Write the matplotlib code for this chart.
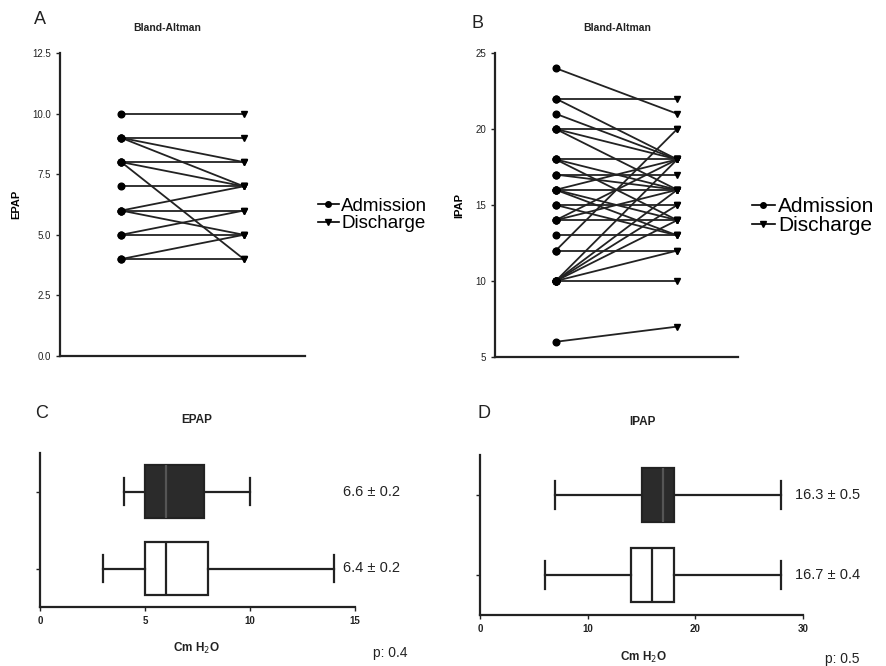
import matplotlib
matplotlib.use("Agg")
import matplotlib.pyplot as plt

plt.rcParams["font.family"] = ["Liberation Sans", "DejaVu Sans"]

# paired values (admission, discharge)
epap_adm = [10, 9, 9, 9, 8, 8, 8, 7, 6, 6, 6, 5, 5, 4, 4]
epap_dis = [10, 9, 8, 7, 8, 7, 4, 7, 7, 6, 5, 5, 6, 4, 5]

ipap_adm = [24, 22, 22, 21, 20, 20, 20, 18, 18, 18, 17, 17, 16, 16, 16, 16,
            15, 15, 14, 14, 14, 13, 12, 12, 10, 10, 10, 10, 10, 10, 6]
ipap_dis = [21, 22, 18, 18, 20, 18, 16, 18, 16, 14, 17, 16, 16, 14, 13, 18,
            15, 13, 14, 16, 18, 13, 12, 20, 10, 12, 14, 15, 16, 18, 7]

epap_ticks = [0.0, 2.5, 5.0, 7.5, 10.0, 12.5]
ipap_ticks = [5, 10, 15, 20, 25]

# box stats: whislo, q1, med, q3, whishi
epap_box_adm = [4, 5, 6, 7.8, 10]
epap_box_dis = [3, 5, 6, 8, 14]
ipap_box_adm = [7, 15, 17, 18, 28]
ipap_box_dis = [6, 14, 16, 18, 28]
epap_labels = ["6.6 ± 0.2", "6.4 ± 0.2"]
ipap_labels = ["16.3 ± 0.5", "16.7 ± 0.4"]

INK = "#222222"

fig = plt.figure(figsize=(8.86, 6.66), dpi=100)


def style_axes(ax):
    for s in ["top", "right"]:
        ax.spines[s].set_visible(False)
    for s in ["left", "bottom"]:
        ax.spines[s].set_linewidth(1.6)
        ax.spines[s].set_color(INK)
    ax.tick_params(direction="out", length=3, width=1, colors=INK, labelsize=7)


def paired_panel(rect, adm, dis, ticks, fmt, ylabel, legend_xy, legend_fs):
    ax = fig.add_axes(rect)
    style_axes(ax)
    for a, d in zip(adm, dis):
        ax.plot([0, 1], [a, d], color=INK, lw=1.3, zorder=2)
    ax.plot([0] * len(adm), adm, "o", color="black", ms=4.8, zorder=3)
    ax.plot([1] * len(dis), dis, "v", color="black", ms=4.8, zorder=3)
    ax.set_xlim(-0.5, 1.5)
    ax.set_ylim(ticks[0], ticks[-1])
    ax.set_yticks(ticks)
    ax.set_yticklabels([fmt.format(t) for t in ticks])
    ax.set_xticks([])
    ax.set_ylabel(ylabel, fontsize=8, fontweight="bold", labelpad=8)
    l1 = plt.Line2D([], [], color="black", marker="o", ms=4, lw=1.2)
    l2 = plt.Line2D([], [], color="black", marker="v", ms=4, lw=1.2)
    fig.legend([l1, l2], ["Admission", "Discharge"], loc="center left",
               bbox_to_anchor=legend_xy, frameon=False, fontsize=legend_fs,
               handlelength=1.1, handletextpad=0.15, labelspacing=0.0,
               borderpad=0, borderaxespad=0)
    return ax


axA = paired_panel([60 / 886, 1 - 356 / 666, 245 / 886, 303 / 666],
                   epap_adm, epap_dis, epap_ticks, "{:.1f}", "EPAP",
                   (318 / 886, 1 - 215 / 666), 13.5)
axB = paired_panel([495 / 886, 1 - 357 / 666, 243 / 886, 304 / 666],
                   ipap_adm, ipap_dis, ipap_ticks, "{:d}", "IPAP",
                   (752 / 886, 1 - 216 / 666), 15)


def box_panel(rect, adm, dis, xmax, xticks, labels, label_x):
    ax = fig.add_axes(rect)
    style_axes(ax)
    stats = []
    for vals in (dis, adm):
        lo, q1, med, q3, hi = vals
        stats.append(dict(whislo=lo, q1=q1, med=med, q3=q3, whishi=hi, fliers=[]))
    bp = ax.bxp(stats, positions=[0, 1], vert=False, widths=0.68, patch_artist=True,
                showfliers=False,
                boxprops=dict(linewidth=1.6, edgecolor=INK),
                medianprops=dict(color=INK, linewidth=1.6),
                whiskerprops=dict(color=INK, linewidth=1.6),
                capprops=dict(color=INK, linewidth=1.6))
    bp["boxes"][0].set_facecolor("white")
    bp["boxes"][1].set_facecolor("#2b2b2b")
    bp["medians"][1].set_color("#555555")
    ax.set_ylim(-0.5, 1.5)
    ax.set_yticks([0, 1])
    ax.set_yticklabels([])
    ax.set_xlim(0, xmax)
    ax.set_xticks(xticks)
    ax.set_xticklabels([str(t) for t in xticks], fontweight="bold")
    for pos, lab in zip([1, 0], labels):
        ax.text(label_x, pos, lab, transform=ax.get_yaxis_transform(),
                ha="left", va="center", fontsize=10.5, color=INK, clip_on=False)
    return ax


axC = box_panel([40 / 886, 1 - 607 / 666, 315 / 886, 154 / 666],
                epap_box_adm, epap_box_dis, 15, [0, 5, 10, 15], epap_labels, 0.962)
axD = box_panel([480 / 886, 1 - 615 / 666, 323 / 886, 160 / 666],
                ipap_box_adm, ipap_box_dis, 30, [0, 10, 20, 30], ipap_labels, 0.975)


# panel letters, titles and notes
def ftext(x, y, s, **kw):
    fig.text(x / 886, 1 - y / 666, s, ha="center", va="center", color=INK, **kw)


ftext(40, 19, "A", fontsize=13)
ftext(478, 24, "B", fontsize=13)
ftext(42, 413, "C", fontsize=13)
ftext(484, 413, "D", fontsize=13)
ftext(167, 28, "Bland-Altman", fontsize=7.5, fontweight="bold")
ftext(617, 28, "Bland-Altman", fontsize=7.5, fontweight="bold")
ftext(197, 420, "EPAP", fontsize=8.5, fontweight="bold")
ftext(642, 422, "IPAP", fontsize=8.5, fontweight="bold")
ftext(197, 648, "Cm H$_2$O", fontsize=8.5, fontweight="bold")
ftext(644, 657, "Cm H$_2$O", fontsize=8.5, fontweight="bold")
ftext(390, 653, "p: 0.4", fontsize=10)
ftext(842, 659, "p: 0.5", fontsize=10)

fig.savefig("out.png", dpi=100)
